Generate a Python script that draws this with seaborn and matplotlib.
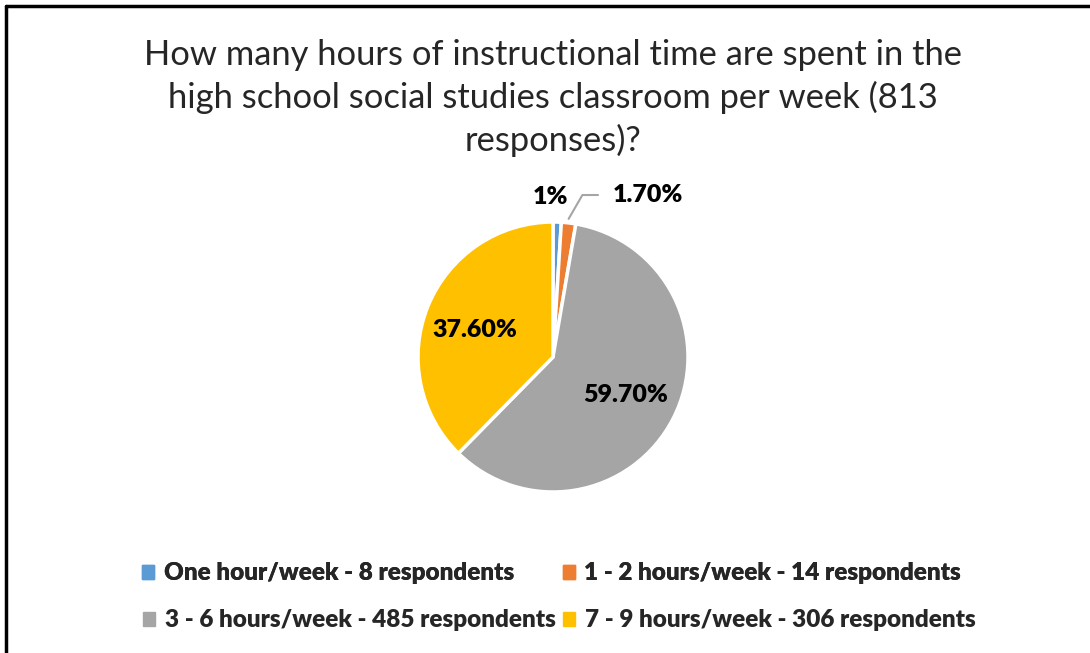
import numpy as np
import seaborn as sns
import matplotlib.pyplot as plt
from matplotlib.lines import Line2D

categories = ["One hour/week - 8 respondents",
              "1 - 2 hours/week - 14 respondents",
              "3 - 6 hours/week - 485 respondents",
              "7 - 9 hours/week - 306 respondents"]
respondents = [8, 14, 485, 306]
pct_labels = ["1%", "1.70%", "59.70%", "37.60%"]
colors = ["#5B9BD5", "#ED7D31", "#A5A5A5", "#FFC000"]

sns.set_theme(style="white")
plt.rcParams['font.family'] = ['Lato', 'DejaVu Sans']

fig = plt.figure(figsize=(10.9, 6.53), dpi=100)
ax = fig.add_axes([0.3525, 0.1949, 0.3097, 0.5168])

wedges, _ = ax.pie(respondents, colors=colors, startangle=90, counterclock=False,
                   wedgeprops=dict(edgecolor="white", linewidth=2.5))
ax.set_aspect("equal")

lbl = dict(fontsize=18, fontweight="heavy", color="black")
ax.text(-0.02, 1.185, pct_labels[0], ha="center", va="center", **lbl)
ang = np.deg2rad(90 - 360 * (respondents[0] + respondents[1] / 2) / sum(respondents))
ax.annotate(pct_labels[1], xy=(np.cos(ang), np.sin(ang) + 0.03), xytext=(0.44, 1.2),
            ha="left", va="center",
            arrowprops=dict(arrowstyle="-", color="#A5A5A5", lw=1.5, shrinkA=8, shrinkB=0,
                            connectionstyle="angle,angleA=0,angleB=60,rad=0"), **lbl)
ax.text(0.54, -0.28, pct_labels[2], ha="center", va="center", **lbl)
ax.text(-0.58, 0.2, pct_labels[3], ha="center", va="center", **lbl)

fig.text(0.507, 0.85, "How many hours of instructional time are spent in the\n"
         "high school social studies classroom per week (813\nresponses)?",
         ha="center", va="center", fontsize=24.8, linespacing=1.37)

handles = [plt.Rectangle((0, 0), 1, 1, color=c) for c in colors]
leg_kw = dict(loc="center", ncol=2, frameon=False, prop=dict(size=17.5, weight="heavy"),
              handlelength=0.5, handleheight=0.5, handletextpad=0.4)
leg1 = fig.legend(handles[:2], categories[:2], bbox_to_anchor=(0.506, 0.122),
                  columnspacing=2.0, **leg_kw)
fig.add_artist(leg1)
fig.legend(handles[2:], categories[2:], bbox_to_anchor=(0.513, 0.05),
           columnspacing=0.3, **leg_kw)

fig.add_artist(Line2D([0.0055, 1], [0.991, 0.991], color="black", lw=2.5, transform=fig.transFigure))
fig.add_artist(Line2D([0.0055, 0.0055], [0, 0.991], color="black", lw=2.5, transform=fig.transFigure))

fig.savefig("out.png", dpi=100)
